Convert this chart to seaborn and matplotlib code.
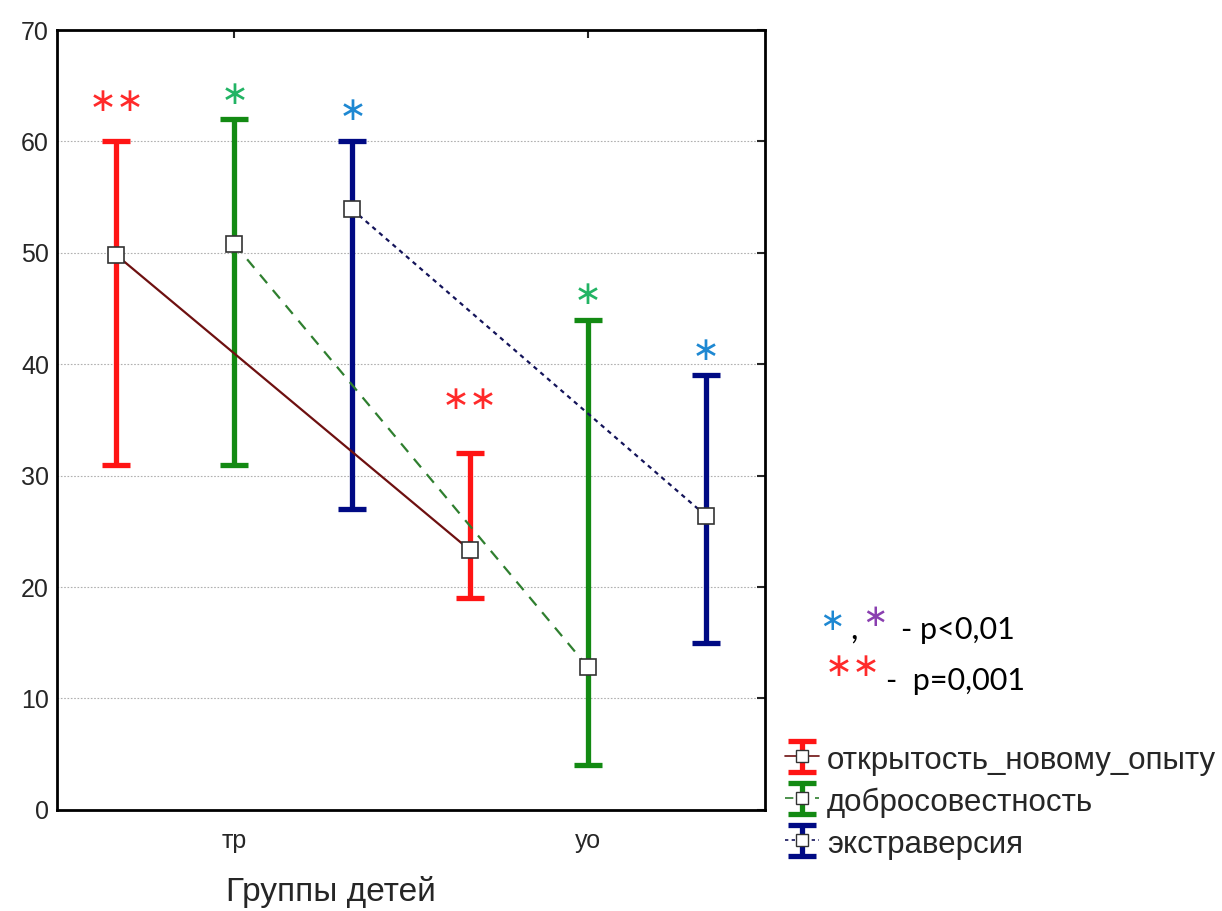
import numpy as np
import pandas as pd
import matplotlib
matplotlib.use("Agg")
import matplotlib.pyplot as plt
import seaborn as sns
from matplotlib.lines import Line2D

# -------------------------------
# Data
# -------------------------------
groups = ["тр", "уо"]
series = ["открытость_новому_опыту", "добросовестность", "экстраверсия"]
offsets = [-1 / 3, 0.0, 1 / 3]

means = {
    "открытость_новому_опыту": [49.8, 23.3],
    "добросовестность": [50.8, 12.8],
    "экстраверсия": [53.9, 26.4],
}
lows = {
    "открытость_новому_опыту": [31, 19],
    "добросовестность": [31, 4],
    "экстраверсия": [27, 15],
}
highs = {
    "открытость_новому_опыту": [60, 32],
    "добросовестность": [62, 44],
    "экстраверсия": [60, 39],
}

# significance marks above the bars
stars = {
    "открытость_новому_опыту": ["∗∗", "∗∗"],
    "добросовестность": ["∗", "∗"],
    "экстраверсия": ["∗", "∗"],
}
star_y = {
    "открытость_новому_опыту": [63.6, 36.8],
    "добросовестность": [64.2, 46.3],
    "экстраверсия": [62.8, 41.2],
}

bar_colors = ["#ff1414", "#138a13", "#000a84"]
line_colors = ["#6e1010", "#2f7f2f", "#14145a"]
star_colors = ["#ff2a2a", "#22b464", "#1e88d2"]
line_styles = ["-", (0, (5, 4)), (0, (2, 2))]

# -------------------------------
# Plot
# -------------------------------
sns.set_style("white")
plt.rcParams["font.family"] = ["Liberation Sans", "DejaVu Sans"]

fig = plt.figure(figsize=(12.22, 9.11), dpi=100)
ax = fig.add_axes([0.047, 0.111, 0.579, 0.856])

handles = []
for i, name in enumerate(series):
    x = np.arange(len(groups)) + offsets[i]
    m = np.array(means[name])
    lo = np.array(lows[name])
    hi = np.array(highs[name])
    eb = ax.errorbar(x, m, yerr=[m - lo, hi - m], fmt="none",
                     ecolor=bar_colors[i], elinewidth=3.8, capsize=10,
                     capthick=3.8, zorder=2)
    df = pd.DataFrame({"x": x, "y": m})
    sns.lineplot(data=df, x="x", y="y", ax=ax, color=line_colors[i],
                 linestyle=line_styles[i], linewidth=1.6, marker="s",
                 markersize=11, markerfacecolor="white",
                 markeredgecolor="#333333", markeredgewidth=1.2,
                 legend=False, zorder=3)
    for j in range(len(groups)):
        ax.text(x[j], star_y[name][j], stars[name][j], color=star_colors[i],
                fontsize=24, ha="center", va="center", family="DejaVu Sans",
                zorder=4)
    proxy = Line2D([], [], color=line_colors[i], linestyle=line_styles[i],
                   linewidth=1.2, marker="s", markersize=9,
                   markerfacecolor="white", markeredgecolor="#333333")
    handles.append((eb, proxy))

ax.set_xlim(-0.5, 1.5)
ax.set_ylim(0, 70)
ax.set_xticks(range(len(groups)))
ax.set_xticklabels(groups)
ax.set_yticks(range(0, 71, 10))
ax.set_xlabel("Группы детей", fontsize=24, va="top")
ax.xaxis.set_label_coords(0.387, -0.085)
ax.set_ylabel("")
ax.tick_params(axis="both", direction="in", length=6, width=1.5,
               labelsize=18, top=True, right=True, pad=6)
ax.tick_params(axis="x", pad=14)
for s in ax.spines.values():
    s.set_color("black")
    s.set_linewidth(2)

for yv in range(10, 70, 10):
    ax.axhline(yv, color="#b0b0b0", linestyle=(0, (1.5, 1.5)),
               linewidth=0.8, zorder=0)

leg = fig.legend(handles, series, loc="lower left",
                 bbox_to_anchor=(0.632, 0.042), frameon=False, fontsize=22.5,
                 handlelength=1.1, handleheight=1.1, handletextpad=0.25,
                 labelspacing=0.3, borderaxespad=0)

# p-value notes
fig.text(0.681, 0.318, "∗", color="#1e88d2", fontsize=22, family="DejaVu Sans",
         ha="center", va="center")
fig.text(0.699, 0.309, ",", color="black", fontsize=24, family="Lato",
         ha="center", va="center")
fig.text(0.716, 0.322, "∗", color="#8a3fb0", fontsize=22, family="DejaVu Sans",
         ha="center", va="center")
fig.text(0.737, 0.309, "- p<0,01", color="black", fontsize=22, family="Lato",
         ha="left", va="center")
fig.text(0.698, 0.268, "∗∗", color="#ff2a2a", fontsize=24,
         family="DejaVu Sans", ha="center", va="center")
fig.text(0.725, 0.253, "-  p=0,001", color="black", fontsize=22, family="Lato",
         ha="left", va="center")

fig.savefig("out.png", dpi=100)
